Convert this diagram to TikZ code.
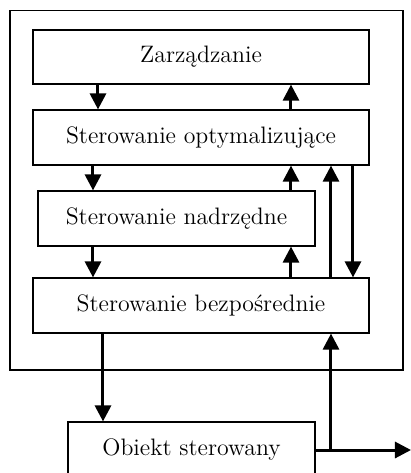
\documentclass[tikz,border=0pt]{standalone}
\usetikzlibrary{arrows.meta}
\begin{document}
\begin{tikzpicture}[x=0.5pt,y=-0.5pt,
  box/.style={draw,line width=0.6pt,inner sep=0pt,font=\fontsize{11.9}{14}\selectfont},
  arr/.style={line width=1.5pt,-{Triangle[width=8pt,length=8pt]}}]
\useasboundingbox (0,0) rectangle (411,473);
\begin{scope}
\clip (0,0) rectangle (411,473);
\node[box,minimum width=196.5pt,minimum height=179.75pt] (sys) at (206.5,190.3) {};
\node[box,minimum width=168pt,minimum height=27pt] (Z) at (201,57) {Zarządzanie};
\node[box,minimum width=168pt,minimum height=27.5pt] (O) at (201,137.5) {Sterowanie optymalizujące};
\node[box,minimum width=138.5pt,minimum height=27.5pt] (N) at (176.5,218.5) {Sterowanie nadrzędne};
\node[box,minimum width=168pt,minimum height=27.5pt] (B) at (201,305.5) {Sterowanie bezpośrednie};
\node[box,minimum width=123.5pt,minimum height=28pt] (Ob) at (191.5,450) {Obiekt sterowany};
\coordinate (xa) at (98,0);
\coordinate (xb) at (93,0);
\coordinate (xc) at (291,0);
\coordinate (xd) at (331,0);
\coordinate (xe) at (353,0);
\coordinate (xf) at (103,0);
\coordinate (out) at (411,450);
\draw[arr] (Z.south -| xa) -- (O.north -| xa);
\draw[arr] (O.north -| xc) -- (Z.south -| xc);
\draw[arr] (O.south -| xb) -- (N.north -| xb);
\draw[arr] (N.north -| xc) -- (O.south -| xc);
\draw[arr] (N.south -| xb) -- (B.north -| xb);
\draw[arr] (B.north -| xc) -- (N.south -| xc);
\draw[arr] (B.north -| xd) -- (O.south -| xd);
\draw[arr] (O.south -| xe) -- (B.north -| xe);
\draw[arr] (B.south -| xf) -- (Ob.north -| xf);
\draw[arr] (Ob.east) -- (out);
\draw[arr] (Ob.east -| xd) -- (B.south -| xd);
\end{scope}
\end{tikzpicture}
\end{document}
